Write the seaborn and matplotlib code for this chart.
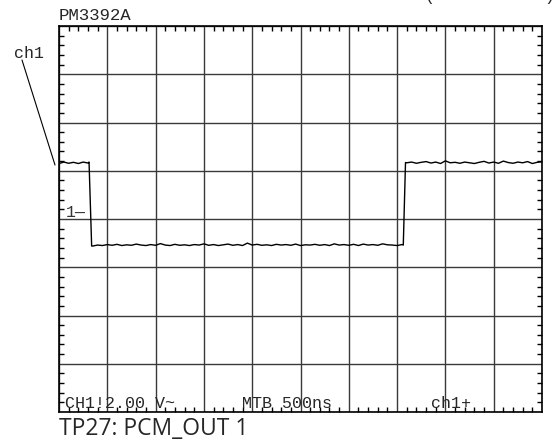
import numpy as np
import pandas as pd
import matplotlib
matplotlib.use("Agg")
import matplotlib.pyplot as plt
from matplotlib.lines import Line2D
from matplotlib.ticker import MultipleLocator
import seaborn as sns

# ---- trace data (time in ns, level in V) ----
t_high1 = [0, 50, 100, 150, 200, 250, 300, 311]
v_high1 = [2.30, 2.36, 2.31, 2.35, 2.30, 2.36, 2.32, 2.36]

t_fall = [338]
v_fall = [-1.12]

t_low = list(np.arange(350, 3551, 50))
v_low = [-1.12, -1.08, -1.10, -1.06, -1.09, -1.05, -1.10, -1.07, -1.09, -1.04,
         -1.08, -1.10, -1.06, -1.09, -1.02, -1.08, -1.10, -1.05, -1.09, -1.07,
         -1.10, -1.06, -1.08, -1.03, -1.09, -1.06, -1.10, -1.07, -1.04, -1.09,
         -1.06, -1.10, -1.00, -1.08, -1.05, -1.09, -1.07, -1.10, -1.05, -1.08,
         -1.06, -1.09, -1.04, -1.10, -1.07, -1.08, -1.05, -1.09, -1.06, -1.10,
         -1.03, -1.08, -1.06, -1.09, -1.05, -1.10, -1.04, -1.08, -1.06, -1.09,
         -1.03, -1.07, -1.08, -1.10, -1.06]

t_rise = [3564, 3587]
v_rise = [-1.08, 2.34]

t_high2 = list(np.arange(3600, 5001, 50))
v_high2 = [2.33, 2.36, 2.31, 2.35, 2.38, 2.32, 2.36, 2.30, 2.41, 2.33,
           2.35, 2.31, 2.36, 2.33, 2.30, 2.35, 2.39, 2.32, 2.36, 2.31,
           2.40, 2.34, 2.31, 2.36, 2.33, 2.38, 2.30, 2.35, 2.37]

# screen settings
ns_per_div = 500
volt_per_div = 2.0
n_xdiv = 10
n_ydiv = 8

header = "PM3392A"
corner = "(           )"
ch_label = "ch1"
ref_label = "1\u2014"
bottom_texts = ["CH1!2.00 V~", "MTB 500ns", "ch1+"]
caption = "TP27: PCM_OUT 1"

df = pd.DataFrame({
    "t": t_high1 + t_fall + t_low + t_rise + t_high2,
    "v": v_high1 + v_fall + v_low + v_rise + v_high2,
})

sns.set_style("white")
W, H = 555, 445
fig = plt.figure(figsize=(W / 100, H / 100), dpi=100)
ax = fig.add_axes([59 / W, 1 - 412 / H, 483 / W, 386 / H])

sns.lineplot(data=df, x="t", y="v", ax=ax, color="black", linewidth=1.0,
             estimator=None, sort=False)

ax.set_xlim(0, n_xdiv * ns_per_div)
ax.set_ylim(-n_ydiv / 2 * volt_per_div, n_ydiv / 2 * volt_per_div)
ax.xaxis.set_major_locator(MultipleLocator(ns_per_div))
ax.yaxis.set_major_locator(MultipleLocator(volt_per_div))
ax.xaxis.set_minor_locator(MultipleLocator(ns_per_div / 5))
ax.yaxis.set_minor_locator(MultipleLocator(volt_per_div / 5))
ax.grid(True, which="major", color="#3a3a3a", linewidth=1.0)
ax.tick_params(which="major", length=0, labelbottom=False, labelleft=False)
ax.tick_params(which="minor", direction="in", length=3.5, width=1.0,
               color="black", top=True, right=True, bottom=True, left=True)
ax.set_xlabel("")
ax.set_ylabel("")
for s in ax.spines.values():
    s.set_color("black")
    s.set_linewidth(1.2)

mono = "Liberation Mono"
fig.text(59 / W, 1 - 20 / H, header, family=mono, fontsize=12.5, va="baseline")
fig.text(425 / W, 1 - 1 / H, corner, family=mono, fontsize=12, va="baseline")
fig.text(14 / W, 1 - 58 / H, ch_label, family=mono, fontsize=12, va="baseline")
fig.add_artist(Line2D([22 / W, 55 / W], [1 - 60 / H, 1 - 165 / H],
                      transform=fig.transFigure, color="black", linewidth=0.8))
ax.text(70, 0.1, ref_label, family=mono, fontsize=12, va="baseline",
        ha="left", color="#333333")
for x, s in zip([65, 242, 431], bottom_texts):
    fig.text(x / W, 1 - 408.5 / H, s, family=mono, fontsize=12, va="baseline")
fig.text(59 / W, 1 - 435 / H, caption, family="Open Sans", fontsize=16.5,
         va="baseline")

fig.savefig("out.png", dpi=100)
